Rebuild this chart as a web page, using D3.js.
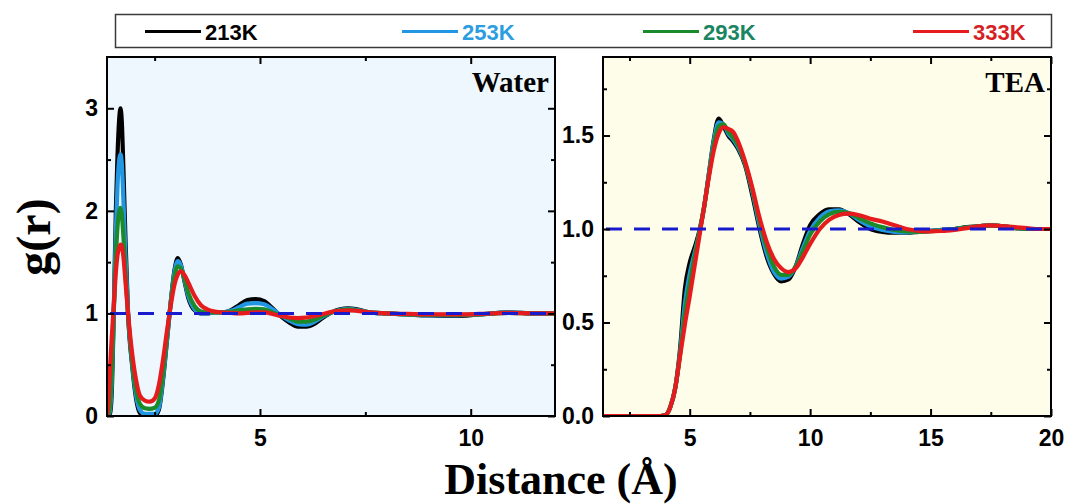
<!DOCTYPE html>
<html>
<head>
<meta charset="utf-8">
<script src="https://cdn.jsdelivr.net/npm/d3@7"></script>
<style>
  html, body { margin: 0; padding: 0; background: #ffffff; }
  svg { display: block; }
</style>
</head>
<body>
<svg id="chart" width="1067" height="504"></svg>
<script>
// ---- data: radial distribution functions g(r) at four temperatures ----
const seriesNames = ["213K", "253K", "293K", "333K"];

// Water panel (r in Å)
const waterR = [1.37, 1.40, 1.44, 1.48, 1.53, 1.58, 1.62, 1.66, 1.69, 1.72,
  1.76, 1.81, 1.87, 1.97, 2.06, 2.15, 2.27, 2.38, 2.5, 2.6,
  2.7, 2.79, 2.88, 2.97, 3.05, 3.12, 3.2, 3.3, 3.45, 3.6,
  3.75, 3.9, 4.1, 4.3, 4.5, 4.7, 4.9, 5.1, 5.3, 5.5,
  5.7, 5.9, 6.1, 6.3, 6.5, 6.7, 6.9, 7.1, 7.3, 7.6,
  8.0, 8.5, 9.0, 9.6, 10.2, 10.9, 11.5, 12.0];
const water213 = [0, 0, 0.02, 0.2, 1.0, 2.0, 2.55, 2.9, 3.0, 2.88,
  2.4, 1.7, 1.0, 0.48, 0.17, 0.03, 0.0, 0.0, 0.0, 0.06,
  0.35, 0.72, 1.1, 1.42, 1.54, 1.48, 1.33, 1.15, 1.03, 1.0,
  1.0, 1.01, 1.01, 1.03, 1.08, 1.13, 1.14, 1.12, 1.05, 0.97,
  0.91, 0.87, 0.87, 0.9, 0.96, 1.01, 1.04, 1.05, 1.04, 1.01,
  1.0, 0.99, 0.98, 0.975, 0.99, 1.01, 1.0, 1.0];
const water253 = [0, 0, 0.05, 0.3, 1.0, 1.8, 2.25, 2.5, 2.55, 2.47,
  2.1, 1.55, 1.0, 0.5, 0.2, 0.06, 0.02, 0.02, 0.02, 0.08,
  0.37, 0.73, 1.1, 1.4, 1.51, 1.47, 1.34, 1.17, 1.04, 1.0,
  1.0, 1.01, 1.01, 1.025, 1.06, 1.095, 1.10, 1.09, 1.04, 0.98,
  0.93, 0.895, 0.89, 0.92, 0.97, 1.01, 1.035, 1.045, 1.035, 1.01,
  1.0, 0.99, 0.98, 0.98, 0.99, 1.01, 1.0, 1.0];
const water293 = [0, 0.01, 0.1, 0.4, 1.0, 1.55, 1.85, 2.0, 2.03, 1.97,
  1.75, 1.38, 0.98, 0.52, 0.25, 0.12, 0.075, 0.07, 0.08, 0.15,
  0.42, 0.76, 1.1, 1.36, 1.46, 1.44, 1.35, 1.2, 1.07, 1.02,
  1.01, 1.01, 1.01, 1.015, 1.03, 1.04, 1.045, 1.04, 1.01, 0.98,
  0.95, 0.92, 0.92, 0.94, 0.98, 1.01, 1.03, 1.04, 1.03, 1.01,
  1.0, 0.99, 0.985, 0.985, 0.99, 1.005, 1.0, 1.0];
const water333 = [0.0, 0.12, 0.45, 0.75, 1.07, 1.4, 1.57, 1.64, 1.67, 1.66,
  1.55, 1.3, 1.0, 0.6, 0.35, 0.2, 0.15, 0.14, 0.17, 0.3,
  0.55, 0.82, 1.07, 1.28, 1.38, 1.41, 1.38, 1.3, 1.17, 1.08,
  1.04, 1.02, 1.01, 1.005, 1.0, 1.005, 1.01, 1.01, 0.995, 0.975,
  0.96, 0.955, 0.96, 0.975, 0.995, 1.015, 1.025, 1.03, 1.025, 1.01,
  1.0, 0.995, 0.99, 0.99, 0.995, 1.005, 1.0, 1.0];

// TEA panel (r in Å)
const teaR = [1.4, 3.0, 3.8, 4.0, 4.2, 4.4, 4.6, 4.8, 5.0, 5.2,
  5.4, 5.6, 5.8, 6.0, 6.2, 6.4, 6.6, 6.8, 7.0, 7.3,
  7.6, 7.9, 8.2, 8.5, 8.8, 9.1, 9.4, 9.7, 10.0, 10.4,
  10.8, 11.2, 11.6, 12.0, 12.5, 13.0, 13.5, 14.0, 14.5, 15.0,
  15.5, 16.0, 16.5, 17.0, 17.5, 18.0, 18.5, 19.0, 19.5, 20.0];
const tea213 = [0, 0, 0, 0.005, 0.05, 0.15, 0.36, 0.68, 0.82, 0.9,
  0.99, 1.12, 1.3, 1.48, 1.59, 1.55, 1.5, 1.47, 1.43, 1.34,
  1.18, 1.0, 0.85, 0.76, 0.72, 0.73, 0.8, 0.92, 1.02, 1.08,
  1.105, 1.105, 1.08, 1.04, 1.0, 0.985, 0.98, 0.98, 0.985, 0.99,
  0.995, 1.0, 1.01, 1.015, 1.02, 1.015, 1.005, 1.0, 1.0, 1.0];
const tea253 = [0, 0, 0, 0.005, 0.05, 0.15, 0.34, 0.6, 0.76, 0.87,
  0.98, 1.12, 1.3, 1.47, 1.57, 1.56, 1.51, 1.48, 1.44, 1.35,
  1.2, 1.02, 0.87, 0.77, 0.735, 0.745, 0.8, 0.9, 0.99, 1.06,
  1.095, 1.1, 1.085, 1.05, 1.015, 0.995, 0.985, 0.982, 0.985, 0.99,
  0.995, 1.0, 1.008, 1.015, 1.02, 1.015, 1.007, 1.0, 1.0, 1.0];
const tea293 = [0, 0, 0, 0.005, 0.05, 0.15, 0.33, 0.55, 0.71, 0.85,
  0.98, 1.12, 1.29, 1.45, 1.55, 1.56, 1.52, 1.49, 1.45, 1.35,
  1.21, 1.04, 0.9, 0.8, 0.755, 0.755, 0.8, 0.88, 0.97, 1.04,
  1.08, 1.092, 1.085, 1.06, 1.03, 1.01, 0.995, 0.987, 0.985, 0.988,
  0.993, 1.0, 1.007, 1.015, 1.02, 1.015, 1.007, 1.0, 1.0, 1.0];
const tea333 = [0, 0, 0, 0.005, 0.05, 0.15, 0.32, 0.49, 0.64, 0.8,
  0.96, 1.12, 1.28, 1.42, 1.51, 1.545, 1.535, 1.52, 1.47, 1.36,
  1.22, 1.06, 0.93, 0.84, 0.79, 0.77, 0.79, 0.85, 0.92, 1.0,
  1.05, 1.075, 1.082, 1.075, 1.055, 1.04, 1.02, 1.0, 0.99, 0.987,
  0.99, 0.995, 1.005, 1.015, 1.02, 1.015, 1.01, 1.005, 1.0, 1.0];

// axis ticks
const waterXTicks = [5, 10];
const waterYTicks = [0, 1, 2, 3];
const teaXTicks = [5, 10, 15, 20];
const teaYTicks = [0.0, 0.5, 1.0, 1.5];

// ---- styling ----
const lineColors = ["#000000", "#2197e4", "#1b8a2a", "#e61b1e"];
const legendTextColors = ["#000000", "#2c9ee0", "#198562", "#d61f25"];
const legendX = [145, 402, 643, 913];
const sansFont = "'Liberation Sans', Arial, sans-serif";
const serifFont = "'Liberation Serif', 'Times New Roman', serif";

const svg = d3.select("#chart");

// ---- legend ----
const legend = svg.append("g");
legend.append("rect")
  .attr("x", 115.5).attr("y", 14.5).attr("width", 936).attr("height", 33)
  .attr("fill", "#ffffff").attr("stroke", "#3a3a3a").attr("stroke-width", 1.5);
seriesNames.forEach((name, i) => {
  legend.append("line")
    .attr("x1", legendX[i]).attr("x2", legendX[i] + 56)
    .attr("y1", 31.5).attr("y2", 31.5)
    .attr("stroke", lineColors[i]).attr("stroke-width", 3);
  legend.append("text")
    .attr("x", legendX[i] + 60).attr("y", 39.5)
    .attr("font-family", sansFont).attr("font-weight", "bold")
    .attr("font-size", 22).attr("fill", legendTextColors[i])
    .text(name);
});

// ---- panel drawing ----
function drawPanel(opts) {
  const { left, right, top, bottom, xDomain, yDomain, xTicks, yTicks,
          xMinor, yMinor, yFormat, bg, label, r, series } = opts;
  const x = d3.scaleLinear().domain(xDomain).range([left, right]);
  const y = d3.scaleLinear().domain(yDomain).range([bottom, top]);
  const g = svg.append("g");
  const clipId = "clip-" + label;

  g.append("clipPath").attr("id", clipId)
    .append("rect").attr("x", left).attr("y", top)
    .attr("width", right - left).attr("height", bottom - top);

  g.append("rect")
    .attr("x", left).attr("y", top)
    .attr("width", right - left).attr("height", bottom - top)
    .attr("fill", bg);

  const plot = g.append("g").attr("clip-path", `url(#${clipId})`);
  const line = d3.line()
    .x((d, i) => x(r[i]))
    .y(d => y(d))
    .curve(d3.curveMonotoneX);

  series.forEach((vals, i) => {
    plot.append("path")
      .datum(vals)
      .attr("d", line)
      .attr("fill", "none")
      .attr("stroke", lineColors[i])
      .attr("stroke-width", 4.2)
      .attr("stroke-linejoin", "round")
      .attr("stroke-linecap", "round");
  });

  // reference line g(r) = 1
  plot.append("line")
    .attr("x1", x(xDomain[0]) + 3).attr("x2", right)
    .attr("y1", y(1)).attr("y2", y(1))
    .attr("stroke", "#1a1acd").attr("stroke-width", 3)
    .attr("stroke-dasharray", "16,12");

  // axes: ticks inward on all four sides
  const axes = [
    { axis: d3.axisBottom(x), tr: `translate(0,${bottom})`, major: xTicks, minor: xMinor, labels: true },
    { axis: d3.axisTop(x), tr: `translate(0,${top})`, major: xTicks, minor: xMinor, labels: false },
    { axis: d3.axisLeft(y), tr: `translate(${left},0)`, major: yTicks, minor: yMinor, labels: true },
    { axis: d3.axisRight(y), tr: `translate(${right},0)`, major: yTicks, minor: yMinor, labels: false }
  ];
  axes.forEach((a, k) => {
    const isY = k >= 2;
    const fmt = isY ? yFormat : d3.format("d");
    // minor ticks
    g.append("g").attr("transform", a.tr)
      .call(a.axis.tickValues(a.minor).tickSize(-4).tickFormat(""))
      .call(s => s.select(".domain").remove())
      .selectAll("line").attr("stroke", "#000").attr("stroke-width", 2);
    // major ticks
    const ax = g.append("g").attr("transform", a.tr)
      .call(a.axis.tickValues(a.major).tickSize(-7).tickPadding(isY ? 9 : 14)
        .tickFormat(a.labels ? fmt : ""));
    ax.select(".domain").remove();
    ax.selectAll("line").attr("stroke", "#000").attr("stroke-width", 2);
    ax.selectAll("text")
      .attr("font-family", sansFont).attr("font-weight", "bold")
      .attr("font-size", 23).attr("fill", "#000");
  });

  // frame
  g.append("rect")
    .attr("x", left).attr("y", top)
    .attr("width", right - left).attr("height", bottom - top)
    .attr("fill", "none").attr("stroke", "#000").attr("stroke-width", 2);

  g.append("text")
    .attr("x", right - 6).attr("y", top + 35)
    .attr("text-anchor", "end")
    .attr("font-family", serifFont).attr("font-weight", "bold")
    .attr("font-size", 29).attr("fill", "#000")
    .text(label);
}

drawPanel({
  left: 107, right: 555, top: 57, bottom: 416,
  xDomain: [1.37, 12], yDomain: [0, 3.5],
  xTicks: waterXTicks, yTicks: waterYTicks,
  xMinor: [2.5, 7.5], yMinor: [0.5, 1.5, 2.5],
  yFormat: d3.format("d"),
  bg: "#eef7fd", label: "Water",
  r: waterR, series: [water213, water253, water293, water333]
});

drawPanel({
  left: 603, right: 1051, top: 57, bottom: 416,
  xDomain: [1.4, 20], yDomain: [0, 1.92],
  xTicks: teaXTicks, yTicks: teaYTicks,
  xMinor: [2.5, 7.5, 12.5, 17.5], yMinor: [0.25, 0.75, 1.25, 1.75],
  yFormat: d3.format(".1f"),
  bg: "#fdfdea", label: "TEA",
  r: teaR, series: [tea213, tea253, tea293, tea333]
});

// ---- axis titles ----
svg.append("text")
  .attr("transform", "translate(50,237) rotate(-90)")
  .attr("text-anchor", "middle")
  .attr("font-family", serifFont).attr("font-weight", "bold")
  .attr("font-size", 48).attr("fill", "#000")
  .text("g(r)");

svg.append("text")
  .attr("x", 561).attr("y", 494)
  .attr("text-anchor", "middle")
  .attr("font-family", serifFont).attr("font-weight", "bold")
  .attr("font-size", 44).attr("fill", "#000")
  .text("Distance (Å)");
</script>
</body>
</html>
